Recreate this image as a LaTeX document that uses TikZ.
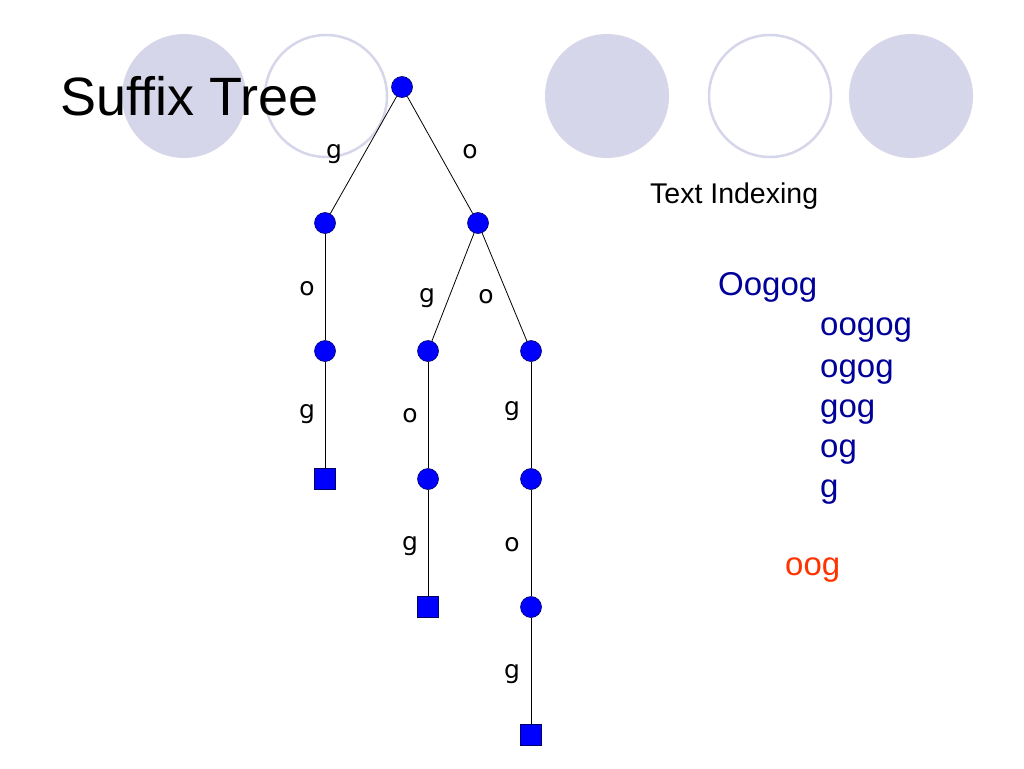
\documentclass[tikz,border=0pt]{standalone}
\usepackage{fontspec}
\setmainfont{Liberation Sans}
\newfontfamily\lblfont{DejaVu Sans}
\definecolor{lavender}{RGB}{214,214,234}
\definecolor{sufblue}{RGB}{0,0,153}
\definecolor{queryred}{RGB}{255,51,0}
\tikzset{
  inner/.style={draw=black!60!blue,fill=blue,shape=circle,inner sep=0pt,minimum size=21pt,line width=0.6pt},
  leaf/.style={draw=black!60!blue,fill=blue,shape=rectangle,inner sep=0pt,minimum size=21pt,line width=0.6pt},
  lbl/.style={font=\lblfont\fontsize{25}{25}\selectfont,anchor=base,inner sep=0pt},
  suf/.style={font=\fontsize{33}{33}\selectfont,text=sufblue,anchor=base west,inner sep=0pt}
}
\begin{document}
\begin{tikzpicture}[x=1pt,y=-1pt]
    \useasboundingbox (0,0) rectangle (1024,768);
    % decoration circles
    \fill[lavender] (184,96) circle (62);
    \draw[lavender,line width=2.5pt] (326,96) circle (61);
    \fill[lavender] (607,96) circle (62);
    \draw[lavender,line width=2.5pt] (770,96) circle (61);
    \fill[lavender] (911,96) circle (62);

    \node[anchor=base west,inner sep=0pt,font=\fontsize{54}{54}\selectfont] (title) at (60,115) {Suffix Tree};
    \node[anchor=base west,inner sep=0pt,font=\fontsize{28.5}{28.5}\selectfont] (topic) at (650,203) {Text Indexing};

    % tree
    \node[inner] (r) at (402,87) {};
    \node[inner] (g) at (325,223) {};
    \node[inner] (o) at (478,223) {};
    \node[inner] (go) at (325,351) {};
    \node[inner] (og) at (428,351) {};
    \node[inner] (oo) at (531,351) {};
    \node[leaf] (gog) at (325,479) {};
    \node[inner] (ogo) at (428,479) {};
    \node[inner] (oog) at (531,479) {};
    \node[leaf] (ogog) at (428,607) {};
    \node[inner] (oogo) at (531,607) {};
    \node[leaf] (oogog) at (531,735) {};
    \draw[line width=0.8pt] (r) -- (g);
    \draw[line width=0.8pt] (r) -- (o);
    \draw[line width=0.8pt] (g) -- (go);
    \draw[line width=0.8pt] (o) -- (og);
    \draw[line width=0.8pt] (o) -- (oo);
    \draw[line width=0.8pt] (go) -- (gog);
    \draw[line width=0.8pt] (og) -- (ogo);
    \draw[line width=0.8pt] (oo) -- (oog);
    \draw[line width=0.8pt] (ogo) -- (ogog);
    \draw[line width=0.8pt] (oog) -- (oogo);
    \draw[line width=0.8pt] (oogo) -- (oogog);

    % edge letters
    \node[lbl] (l1) at (334,158) {g};
    \node[lbl] (l2) at (470,158) {o};
    \node[lbl] (l3) at (307,295) {o};
    \node[lbl] (l4) at (427,302) {g};
    \node[lbl] (l5) at (486,303) {o};
    \node[lbl] (l6) at (307,418) {g};
    \node[lbl] (l7) at (410,422) {o};
    \node[lbl] (l8) at (512,415) {g};
    \node[lbl] (l9) at (410,550) {g};
    \node[lbl] (l10) at (512,551) {o};
    \node[lbl] (l11) at (512,678) {g};

    % suffixes
    \node[suf] (s0) at (718,295) {Oogog};
    \node[suf] (s1) at (820,335) {oogog};
    \node[suf] (s2) at (820,377) {ogog};
    \node[suf] (s3) at (820,417) {gog};
    \node[suf] (s4) at (820,457) {og};
    \node[suf] (s5) at (820,497) {g};
    \node[suf,text=queryred] (q) at (785,575) {oog};
\end{tikzpicture}
\end{document}
